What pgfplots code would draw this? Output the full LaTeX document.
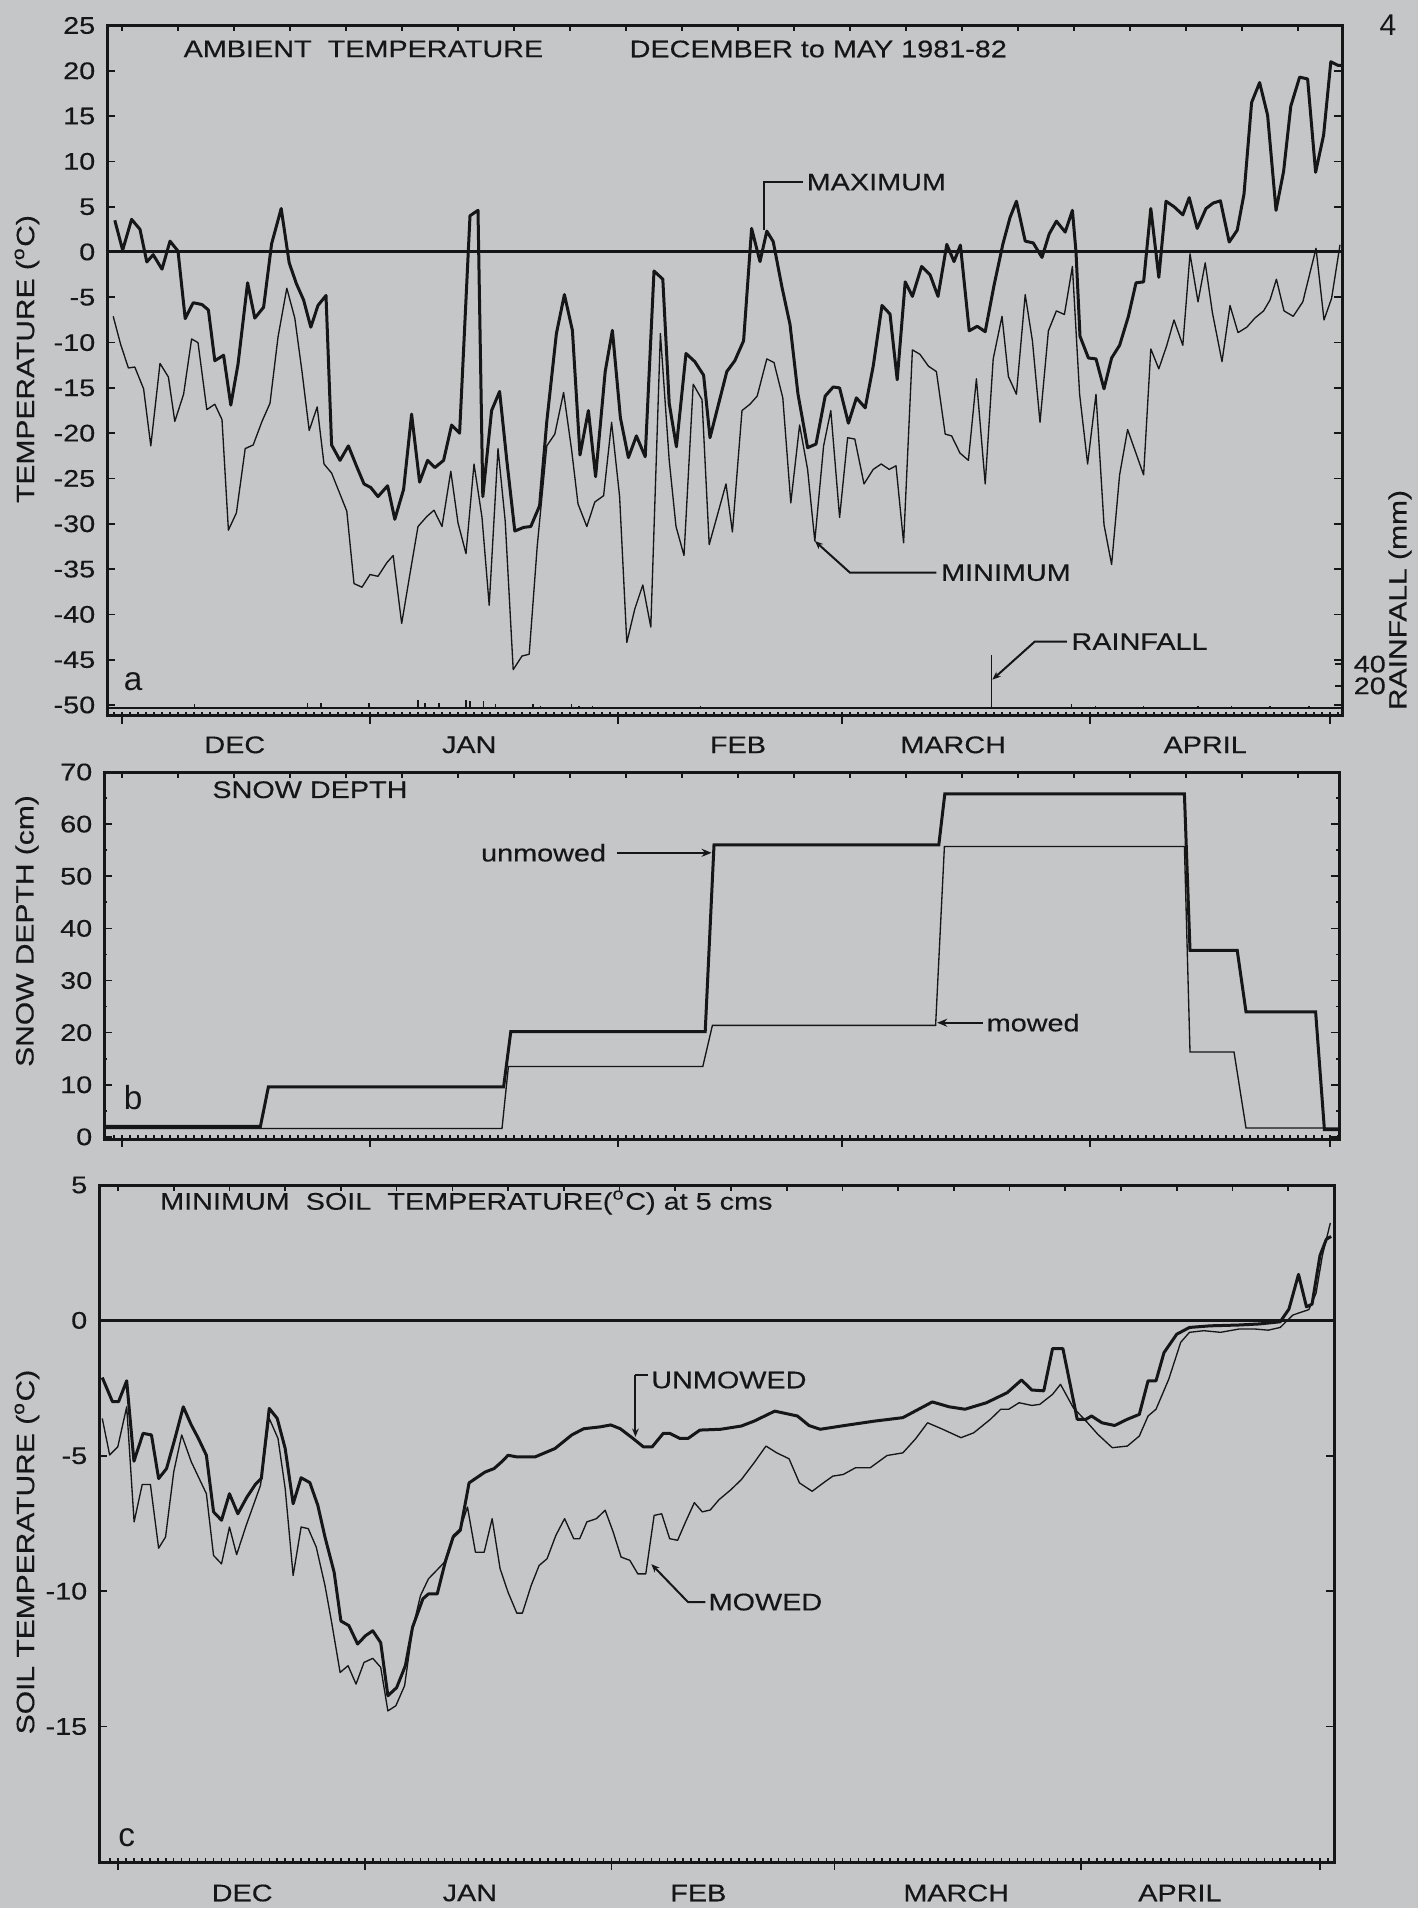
\documentclass[border=0pt]{standalone}
\usepackage{fontspec}
\setmainfont{Liberation Sans}
\newfontfamily\lab[FakeStretch=1.2, FakeBold=0.35]{Liberation Sans}
\usepackage{pgfplots}
\pgfplotsset{compat=1.18}
\usetikzlibrary{arrows.meta}
\definecolor{bg}{RGB}{197,198,200}
\definecolor{ink}{RGB}{22,22,22}
\newcommand\tf{\lab\fontsize{7.2pt}{8.6pt}\selectfont}
\newcommand\tfy{\lab\fontsize{7.5pt}{9pt}\selectfont}
\newcommand\tfl{\fontsize{10pt}{12pt}\selectfont}

\tikzset{ann/.style={ink, line width=0.6pt}, lbl/.style={anchor=west, inner sep=0.5pt, font=\tf, text=ink}, mon/.style={font=\tf, text=ink}}
\pgfplotsset{
 panel/.style={scale only axis, anchor=north west, width=370.5pt, clip=false,
   axis line style={ink, line width=0.9pt},
   tick style={ink, line width=0.5pt},
   tick label style={font=\tf, text=ink},
   /pgf/number format/assume math mode=true,
   xtick pos=bottom, ytick pos=both, yticklabel pos=left,
   xtick align=outside, ytick align=inside,
   major tick length=2.4pt, minor tick length=1pt,
   xtick={0,31,62,90,121,151}, xticklabels={},
 },
 topticks/.style={scale only axis, anchor=north west, width=370.5pt, hide y axis,
   axis x line*=top, axis line style={draw=none}, xtick={0,7,...,147}, xticklabels={},
   xtick align=inside, major tick length=1.8pt, tick style={ink,line width=0.5pt}, ymin=0, ymax=1},
 botticks/.style={scale only axis, anchor=north west, width=370.5pt, hide y axis,
   axis x line*=bottom, axis line style={draw=none}, xtick={-1,0,...,152}, xticklabels={},
   xtick align=inside, major tick length=1.2pt, tick style={ink,line width=0.45pt}, ymin=0, ymax=1},
}

\begin{document}
\begin{tikzpicture}
\path[use as bounding box, fill=bg] (0pt,0pt) rectangle (425.4pt,-572.4pt);

% ---------------- panel a ----------------
\begin{axis}[panel, at={(32.1pt,-7.65pt)}, height=207.1pt,
  xmin=-1.875, xmax=152.5, ymin=-51.2, ymax=25, ytick={-50,-45,...,25}]
\draw[ink, line width=0.9pt] (axis cs:-1.875,0) -- (axis cs:152.5,0);
\draw[ink, line width=0.7pt] (axis cs:-1.875,-50.3) -- (axis cs:152.5,-50.3);
% maximum
\addplot[ink, line width=0.9pt, line join=round] coordinates {
(-0.9,3.5)(0.08,0.2)(1.2,3.6)(2.25,2.5)(3.1,-1.1)(3.9,-0.3)(5.0,-1.9)(6.0,1.2)(7.0,0.1)
(7.9,-7.35)(8.9,-5.6)(10.0,-5.8)(10.8,-6.4)(11.6,-12.0)(12.7,-11.4)(13.6,-16.9)(14.5,-12.4)
(15.7,-3.4)(16.6,-7.3)(17.7,-6.1)(18.7,0.9)(19.9,4.8)(20.9,-1.2)(21.8,-3.5)(22.7,-5.3)
(23.6,-8.3)(24.5,-5.9)(25.5,-4.8)(26.2,-21.3)(27.25,-23.0)(28.3,-21.4)(29.3,-23.6)(30.25,-25.6)
(31.1,-26.0)(32.0,-27.0)(33.2,-25.8)(34.1,-29.5)(35.2,-26.2)
(36.2,-17.9)(37.2,-25.4)(38.2,-23.0)(39.1,-23.8)(40.2,-23.0)(41.2,-19.1)(42.2,-20.0)(43.5,4.0)
(44.5,4.6)(45.1,-27.0)(46.2,-17.5)(47.2,-15.4)(48.1,-23.0)(49.1,-30.8)(50.2,-30.4)(51.1,-30.3)
(52.2,-28.0)(53.1,-18.7)(54.3,-9.0)(55.3,-4.7)(56.3,-8.65)(57.25,-22.4)(58.3,-17.5)(59.2,-24.8)
(60.4,-13.2)(61.3,-8.65)(62.3,-18.3)(63.3,-22.7)(64.3,-20.3)(65.4,-22.6)(66.5,-2.1)(67.6,-3.0)
(68.4,-16.7)(69.3,-21.5)(70.5,-11.2)(71.6,-12.1)(72.7,-13.6)(73.5,-20.5)
(75.6,-13.2)(76.6,-12.0)(77.7,-9.8)(78.7,2.6)(79.75,-1.06)(80.6,2.3)(81.4,1.15)(82.5,-3.9)
(83.5,-8.0)(84.5,-15.7)(85.7,-21.6)(86.75,-21.2)(87.9,-15.9)(88.9,-14.9)(89.7,-15.0)(90.8,-18.9)
(91.8,-16.1)(92.9,-17.2)(93.9,-12.6)(95.0,-5.9)(96.0,-6.85)(96.9,-14.1)(97.9,-3.3)(98.8,-4.9)
(99.95,-1.6)(101.0,-2.5)(102.0,-4.9)(103.1,0.84)(104.0,-1.06)(104.8,0.76)(105.9,-8.7)(106.9,-8.2)
(107.9,-8.8)(109.0,-3.7)(110.1,0.84)(111.0,3.8)(111.8,5.6)(112.9,1.2)(113.9,1.0)
(115.0,-0.6)(115.9,2.0)(116.8,3.4)(117.9,2.2)(118.8,4.6)(119.25,0.0)(119.75,-9.3)(120.8,-11.7)
(121.75,-11.8)(122.75,-15.1)(123.7,-11.7)(124.7,-10.3)(125.8,-7.1)(126.75,-3.4)(127.7,-3.3)
(128.6,4.8)(129.6,-2.8)(130.5,5.6)(131.5,5.0)(132.6,4.1)(133.4,6.0)(134.4,2.6)(135.5,4.8)
(136.4,5.4)(137.3,5.65)(138.4,1.1)(139.4,2.4)(140.25,6.4)(141.2,16.5)(142.2,18.7)(143.2,15.1)
(144.25,4.6)(145.2,8.9)(146.1,16.1)(147.2,19.3)(148.2,19.1)(149.2,8.8)(150.2,12.9)(151.1,21.0)
(152.0,20.6)(152.5,20.6)};
% minimum
\addplot[ink, line width=0.4pt, line join=round] coordinates {
(-1.1,-7.1)(-0.17,-10.2)(0.8,-12.8)(1.6,-12.7)(2.7,-15.1)(3.6,-21.4)(4.75,-12.3)(5.8,-13.8)
(6.6,-18.7)(7.7,-15.7)(8.7,-9.6)(9.5,-10.0)(10.6,-17.4)(11.6,-16.8)(12.5,-18.5)(13.3,-30.7)
(14.3,-28.8)(15.4,-21.7)(16.4,-21.3)(17.5,-18.7)(18.5,-16.7)(19.5,-9.4)(20.6,-4.0)(21.6,-7.3)
(22.5,-13.2)(23.4,-19.7)(24.4,-17.1)(25.25,-23.4)(26.2,-24.4)(28.1,-28.6)(29.0,-36.6)(30.0,-37.0)
(31.0,-35.6)(32.0,-35.8)(33.1,-34.3)(33.9,-33.5)(34.96,-41.0)
(36.0,-35.5)(37.0,-30.3)(38.1,-29.2)(39.0,-28.5)(40.0,-30.3)(41.1,-24.2)(42.0,-29.9)(43.0,-33.3)
(44.0,-23.4)(45.0,-29.3)(45.9,-39.0)(47.0,-21.7)(47.9,-29.7)(48.9,-46.1)(50.0,-44.6)(50.9,-44.4)
(51.9,-32.5)(53.1,-21.4)(54.1,-20.1)(55.2,-15.5)(56.2,-21.85)(57.0,-27.8)(58.1,-30.3)(59.1,-27.6)
(60.2,-26.9)(61.2,-18.8)(62.2,-27.0)(63.1,-43.1)(64.1,-39.4)(65.1,-36.75)(66.1,-41.4)(67.3,-9.0)
(68.4,-23.0)(69.25,-30.3)(70.25,-33.5)(71.4,-14.6)(72.5,-16.3)(73.4,-32.3)
(75.5,-25.6)(76.3,-30.9)(77.5,-17.5)(78.5,-16.8)(79.4,-15.9)(80.6,-11.8)(81.5,-12.2)(82.6,-16.1)
(83.6,-27.7)(84.7,-19.1)(85.7,-24.0)(86.6,-31.9)(87.7,-21.4)(88.6,-17.5)(89.7,-29.3)(90.7,-20.5)
(91.6,-20.65)(92.75,-25.6)(93.9,-24.0)(94.9,-23.4)(95.9,-24.0)(96.75,-23.6)(97.7,-32.1)(98.8,-10.8)
(99.75,-11.3)(100.8,-12.6)(101.8,-13.2)(102.9,-20.1)(103.7,-20.3)(104.75,-22.2)(105.8,-23.0)
(106.8,-14.0)(107.9,-25.6)(108.9,-11.8)(110.0,-7.1)(110.8,-13.75)(111.8,-15.7)(112.9,-4.7)(113.8,-9.8)
(114.75,-18.8)(115.8,-8.7)(116.8,-6.5)(117.8,-6.9)(118.8,-1.6)(119.7,-15.7)(120.7,-23.4)(121.75,-15.7)
(122.75,-30.1)(123.7,-34.5)(124.7,-24.6)(125.7,-19.6)(127.7,-24.6)(128.6,-10.7)(129.6,-12.9)
(130.6,-10.3)(131.5,-7.5)(132.6,-10.3)(133.1,-4.7)(133.5,-0.2)(134.5,-5.5)(135.4,-1.2)(136.3,-6.7)
(137.5,-12.1)(138.5,-5.9)(139.5,-8.9)(140.6,-8.3)(141.6,-7.3)(142.7,-6.5)(143.5,-5.3)(144.3,-3.0)
(145.25,-6.5)(146.4,-7.1)(147.6,-5.5)(149.25,0.4)(150.25,-7.5)(151.2,-5.1)(152.25,0.8)};
% annotations
\draw[ann] (axis cs:80.2,2.4) -- (axis cs:80.2,7.7) -- (axis cs:85.1,7.7);
\node[lbl] at (axis cs:85.3,7.7) {MAXIMUM};
\draw[ann, {Stealth[length=2.5pt,width=2pt]}-] (axis cs:86.6,-31.9) -- (axis cs:91,-35.4) -- (axis cs:101.8,-35.4);
\node[lbl] at (axis cs:102.1,-35.4) {MINIMUM};
\draw[ann, {Stealth[length=2.5pt,width=2pt]}-] (axis cs:108.8,-47.2) -- (axis cs:114.1,-43.0) -- (axis cs:118.1,-43.0);
\node[lbl] at (axis cs:118.4,-43.0) {RAINFALL};
\node[font=\tfl, text=ink] at (axis cs:1.4,-47.4) {a};
% month labels
\node[mon, yshift=-8.7pt] at (axis cs:14.1,-51.2) {DEC};
\node[mon, yshift=-8.7pt] at (axis cs:43.4,-51.2) {JAN};
\node[mon, yshift=-8.7pt] at (axis cs:77.0,-51.2) {FEB};
\node[mon, yshift=-8.7pt] at (axis cs:103.9,-51.2) {MARCH};
\node[mon, yshift=-8.7pt] at (axis cs:135.4,-51.2) {APRIL};
\end{axis}
\begin{axis}[topticks, at={(32.1pt,-7.65pt)}, height=207.1pt, xmin=-1.875, xmax=152.5]
\addplot[draw=none] coordinates {(0,0.5)};
\end{axis}
\begin{axis}[botticks, at={(32.1pt,-7.65pt)}, height=207.1pt, xmin=-1.875, xmax=152.5]
\addplot[draw=none] coordinates {(0,0.5)};
\end{axis}
% rainfall axis
\begin{axis}[scale only axis, anchor=north west, at={(32.1pt,-7.65pt)}, width=370.5pt, height=207.1pt,
  xmin=-1.875, xmax=152.5, ymin=-7.5, ymax=627.5, hide x axis, axis y line*=right,
  axis line style={draw=none}, ytick={20,40}, tick label style={font=\tf, text=ink},
  /pgf/number format/assume math mode=true, major tick length=2pt, tick style={ink,line width=0.5pt}]
\addplot[ycomb, ink, line width=0.5pt] coordinates {
(9.05,3)(23.2,4)(24.9,4)(30.9,4)(37.0,7)(37.9,4)(39.6,4)(43.0,7)(43.5,6)(45.2,6)(46.7,3)
(51.4,3)(52.3,2)(56.2,3)(57.1,2)(58.8,2)(72.3,2)(108.7,48)(118.7,3)(121.7,2)(127.7,2)
(134.5,2)(138.7,2)(143.5,2)(148.4,2)};
\end{axis}

% ---------------- panel b ----------------
\begin{axis}[panel, at={(31.2pt,-231.6pt)}, height=110.1pt,
  xmin=-2.25, xmax=152.125, ymin=-0.4, ymax=70, ytick={0,10,...,70}, minor y tick num=1]
\addplot[ink, line width=0.9pt] coordinates {(-2.25,2.0)(17.3,2.0)(18.3,9.6)(47.7,9.6)(48.6,20.2)
 (72.9,20.2)(74.0,56.0)(102.1,56.0)(102.85,65.8)(132.8,65.8)(133.5,35.8)(139.4,35.8)(140.5,24.0)
 (149.2,24.0)(150.3,1.4)(152.125,1.4)};
\addplot[ink, line width=0.4pt] coordinates {(-2.25,1.6)(47.5,1.6)(48.3,13.5)(72.6,13.5)(73.8,21.4)
 (101.7,21.4)(102.8,55.7)(132.8,55.7)(133.5,16.3)(139.0,16.3)(140.5,1.7)(152.125,1.7)};
\node[lbl] at (axis cs:11,66.6) {SNOW DEPTH};
\node[lbl] at (axis cs:44.6,54.5) {unmowed};
\draw[ann, -{Stealth[length=3pt,width=2.4pt]}] (axis cs:61.9,54.5) -- (axis cs:73.7,54.5);
\node[lbl] at (axis cs:107.8,21.9) {mowed};
\draw[ann, -{Stealth[length=3pt,width=2.4pt]}] (axis cs:107.6,21.9) -- (axis cs:101.9,21.9);
\node[font=\tfl, text=ink] at (axis cs:1.4,7.5) {b};
\end{axis}
\begin{axis}[topticks, at={(31.2pt,-231.6pt)}, height=110.1pt, xmin=-2.25, xmax=152.125]
\addplot[draw=none] coordinates {(0,0.5)};
\end{axis}
\begin{axis}[botticks, at={(31.2pt,-231.6pt)}, height=110.1pt, xmin=-2.25, xmax=152.125]
\addplot[draw=none] coordinates {(0,0.5)};
\end{axis}

% ---------------- panel c ----------------
\begin{axis}[panel, at={(29.7pt,-355.5pt)}, height=203.1pt,
  xmin=-2.39, xmax=152.76, ymin=-20, ymax=5, ytick={-15,-10,...,5}]
\draw[ink, line width=0.9pt] (axis cs:-2.39,0) -- (axis cs:152.76,0);
% unmowed
\addplot[ink, line width=0.9pt, line join=round] coordinates {
(-1.98,-2.11)(-0.7,-3.0)(0.07,-3.0)(1.09,-2.23)(2.0,-5.2)(3.15,-4.17)(4.2,-4.23)(5.1,-5.84)
(6.1,-5.47)(7.15,-4.36)(8.2,-3.19)(9.2,-3.86)(10.1,-4.36)(11.1,-4.98)(12.0,-7.07)(13.0,-7.38)
(14.0,-6.4)(15.05,-7.14)(16.2,-6.52)(17.25,-6.06)(18.0,-5.84)(19.0,-3.25)(20.0,-3.62)(21.0,-4.73)
(22.0,-6.77)(23.0,-5.81)(24.1,-5.99)(25.1,-6.83)(26.0,-8.0)(27.15,-9.3)(28.0,-11.1)(29.0,-11.27)
(30.1,-11.95)(31.1,-11.64)(32.0,-11.46)(33.0,-11.9)(33.9,-13.86)(35.0,-13.56)(36.1,-12.75)
(37.0,-11.33)(38.3,-10.28)(39.0,-10.1)(40.1,-10.1)(41.1,-8.93)(42.1,-8.0)(43.0,-7.75)(44.1,-6.0)
(45.2,-5.78)(46.1,-5.6)(47.25,-5.47)(48.2,-5.22)(49.0,-4.98)(50.1,-5.04)(52.4,-5.04)(54.9,-4.73)
(57.0,-4.23)(58.5,-4.0)(60.6,-3.93)(61.9,-3.86)(63.1,-4.0)(64.7,-4.36)(66.0,-4.67)(67.1,-4.67)
(68.5,-4.17)(69.3,-4.17)(70.6,-4.36)(71.6,-4.36)(73.1,-4.05)(75.7,-4.02)(78.3,-3.9)(79.9,-3.72)
(82.5,-3.35)(85.35,-3.53)(86.8,-3.88)(88.2,-4.02)(91.3,-3.88)(95.0,-3.72)(98.6,-3.59)(102.3,-3.01)
(104.4,-3.19)(106.4,-3.28)(109.1,-3.04)(111.7,-2.67)(113.5,-2.2)(114.8,-2.57)(116.3,-2.6)
(117.4,-1.04)(118.7,-1.04)(120.5,-3.65)(121.6,-3.65)(122.3,-3.53)(123.6,-3.78)(125.2,-3.88)
(126.8,-3.65)(128.3,-3.47)(129.4,-2.23)(130.4,-2.23)(131.4,-1.19)(133.0,-0.51)(134.6,-0.26)
(137.2,-0.2)(140.8,-0.17)(143.4,-0.13)(146.0,-0.05)(147.1,0.42)(148.3,1.7)(149.3,0.5)(150.0,0.6)
(151.0,2.4)(151.8,3.0)(152.4,3.1)};
% mowed
\addplot[ink, line width=0.4pt, line join=round] coordinates {
(-1.98,-3.62)(-1.05,-4.97)(-0.03,-4.67)(1.09,-3.19)(2.02,-7.44)(3.04,-6.06)(4.07,-6.06)(5.1,-8.41)
(5.97,-8.0)(7.0,-5.59)(8.0,-4.23)(9.2,-5.22)(10.1,-5.78)(11.1,-6.4)(12.0,-8.68)(13.0,-8.99)
(14.0,-7.63)(14.9,-8.65)(16.1,-7.57)(17.0,-6.83)(17.9,-6.09)(19.0,-3.62)(20.1,-4.36)(21.0,-6.21)
(22.0,-9.42)(23.0,-7.63)(23.9,-7.69)(24.9,-8.37)(26.0,-9.79)(26.8,-11.09)(27.9,-13.0)(28.9,-12.75)
(29.9,-13.43)(30.9,-12.63)(32.0,-12.48)(33.0,-12.81)(33.9,-14.42)(34.9,-14.23)(36.0,-13.49)
(37.0,-11.4)(38.0,-10.16)(39.0,-9.54)(39.8,-9.3)(41.0,-8.93)(42.1,-7.94)(43.0,-7.69)(43.9,-6.89)
(44.9,-8.56)(46.0,-8.56)(47.0,-7.32)(48.0,-9.17)(49.0,-10.04)(50.1,-10.81)(50.8,-10.81)(51.9,-9.79)
(52.9,-9.05)(53.9,-8.8)(55.0,-7.94)(56.1,-7.32)(57.25,-8.06)(58.0,-8.06)(58.9,-7.44)(60.1,-7.32)
(61.2,-7.01)(62.2,-7.81)(63.2,-8.74)(64.3,-8.86)(65.3,-9.36)(66.3,-9.36)(67.35,-7.2)(68.3,-7.14)
(69.3,-8.06)(70.3,-8.12)(71.3,-7.44)(72.4,-6.73)(73.4,-7.07)(74.4,-7.0)(75.5,-6.62)(77.0,-6.25)
(78.3,-5.88)(79.9,-5.26)(81.4,-4.64)(82.75,-4.89)(84.3,-5.11)(85.6,-6.0)(87.2,-6.31)(88.7,-5.98)
(89.8,-5.75)(91.1,-5.69)(92.65,-5.44)(94.5,-5.44)(96.6,-4.99)(98.6,-4.89)(100.2,-4.37)(101.7,-3.78)
(103.6,-4.02)(105.9,-4.33)(107.5,-4.15)(109.6,-3.65)(110.9,-3.28)(111.9,-3.28)(113.2,-3.04)
(114.8,-3.14)(115.8,-3.1)(117.4,-2.73)(118.4,-2.36)(120.0,-3.22)(121.8,-3.78)(123.1,-4.21)
(124.9,-4.7)(126.8,-4.64)(128.3,-4.27)(129.4,-3.53)(130.4,-3.28)(132.0,-2.17)(133.5,-0.81)
(134.6,-0.44)(136.4,-0.38)(138.5,-0.44)(140.8,-0.32)(142.9,-0.32)(144.5,-0.36)(146.0,-0.26)
(147.6,0.2)(148.6,0.3)(149.6,0.4)(150.5,1.0)(151.3,2.4)(152.3,3.6)};
\node[lbl] at (axis cs:5.0,4.35) {MINIMUM\ \ SOIL\ \ TEMPERATURE(\textsuperscript{o}C) at 5 cms};
\draw[ann, -{Stealth[length=2.5pt,width=2pt]}] (axis cs:65.0,-2.0) -- (axis cs:65.0,-4.3);
\draw[ann] (axis cs:65.0,-2.0) -- (axis cs:66.6,-2.0);
\node[lbl] at (axis cs:66.7,-2.2) {UNMOWED};
\draw[ann, {Stealth[length=2.5pt,width=2pt]}-] (axis cs:67.0,-9.0) -- (axis cs:71.6,-10.4) -- (axis cs:73.8,-10.4);
\node[lbl] at (axis cs:73.9,-10.4) {MOWED};
\node[font=\tfl, text=ink] at (axis cs:1.1,-19.1) {c};
\node[mon, yshift=-9.3pt] at (axis cs:15.6,-20) {DEC};
\node[mon, yshift=-9.3pt] at (axis cs:44.2,-20) {JAN};
\node[mon, yshift=-9.3pt] at (axis cs:72.9,-20) {FEB};
\node[mon, yshift=-9.3pt] at (axis cs:105.3,-20) {MARCH};
\node[mon, yshift=-9.3pt] at (axis cs:133.4,-20) {APRIL};
\end{axis}
\begin{axis}[topticks, at={(29.7pt,-355.5pt)}, height=203.1pt, xmin=-2.39, xmax=152.76]
\addplot[draw=none] coordinates {(0,0.5)};
\end{axis}
\begin{axis}[botticks, at={(29.7pt,-355.5pt)}, height=203.1pt, xmin=-2.39, xmax=152.76]
\addplot[draw=none] coordinates {(0,0.5)};
\end{axis}

% ---------------- outside texts ----------------
\node[anchor=west, font=\tf, text=ink, inner sep=0pt] at (54.9pt,-14.7pt) {AMBIENT\ \ TEMPERATURE};
\node[anchor=west, font=\tf, text=ink, inner sep=0pt] at (188.7pt,-14.7pt) {DECEMBER to MAY 1981-82};
\node[font=\fontsize{9pt}{10pt}\selectfont, text=ink] at (416.4pt,-7.5pt) {4};
\node[rotate=90, font=\tfy, text=ink] at (8.1pt,-107.7pt) {TEMPERATURE (\textsuperscript{o}C)};
\node[rotate=90, font=\tfy, text=ink] at (8.1pt,-279.3pt) {SNOW DEPTH (cm)};
\node[rotate=90, font=\tfy, text=ink] at (8.1pt,-465.6pt) {SOIL TEMPERATURE (\textsuperscript{o}C)};
\node[rotate=90, font=\tfy, text=ink] at (420pt,-180pt) {RAINFALL (mm)};
\end{tikzpicture}
\end{document}
